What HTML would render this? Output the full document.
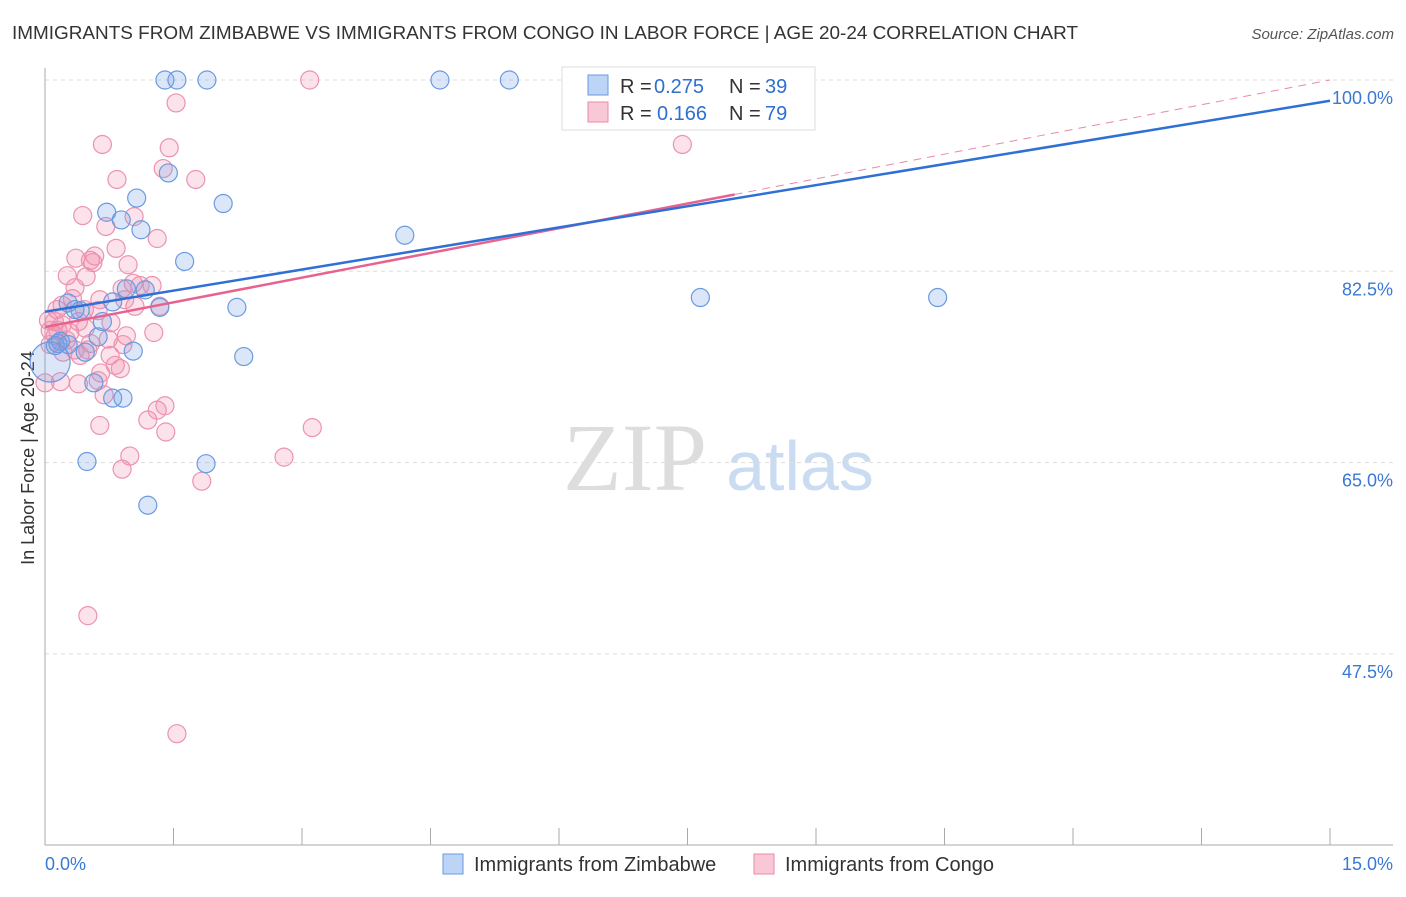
<!DOCTYPE html>
<html><head><meta charset="utf-8"><style>
body{margin:0;background:#fff;font-family:"Liberation Sans",sans-serif}
</style></head><body>
<svg id="c" width="1406" height="892" xmlns="http://www.w3.org/2000/svg">
<text x="12" y="39" font-size="18.5" fill="#333" textLength="1066" lengthAdjust="spacingAndGlyphs">IMMIGRANTS FROM ZIMBABWE VS IMMIGRANTS FROM CONGO IN LABOR FORCE | AGE 20-24 CORRELATION CHART</text>
<text x="1394" y="39" font-size="15" fill="#555" font-style="italic" text-anchor="end">Source: ZipAtlas.com</text>
<text x="34" y="458" font-size="18" fill="#333" text-anchor="middle" transform="rotate(-90 34 458)">In Labor Force | Age 20-24</text>
<g><text x="635" y="490" font-size="96" fill="#ddd" font-family="Liberation Serif" text-anchor="middle">ZIP</text><text x="800" y="490" font-size="70" fill="#c9dcf2" text-anchor="middle">atlas</text></g>
<g id="grid"></g><g id="pts"></g><g id="lines"></g>
<g>
<rect x="562" y="67" width="253" height="63" fill="#fff" stroke="#ddd"/>
<rect x="588" y="75" width="20" height="20" fill="#bcd4f5" stroke="#6a9ae0"/>
<rect x="588" y="102" width="20" height="20" fill="#f9c8d6" stroke="#e88aa8"/>
<text x="620" y="93" font-size="20" fill="#333">R =</text><text x="654" y="93" font-size="20" fill="#2f6fd0">0.275</text>
<text x="729" y="93" font-size="20" fill="#333">N =</text><text x="765" y="93" font-size="20" fill="#2f6fd0">39</text>
<text x="620" y="120" font-size="20" fill="#333">R =</text><text x="657" y="120" font-size="20" fill="#2f6fd0">0.166</text>
<text x="729" y="120" font-size="20" fill="#333">N =</text><text x="765" y="120" font-size="20" fill="#2f6fd0">79</text>
</g>
<g>
<rect x="443" y="854" width="20" height="20" fill="#bcd4f5" stroke="#6a9ae0"/>
<text x="474" y="871" font-size="20" fill="#333">Immigrants from Zimbabwe</text>
<rect x="754" y="854" width="20" height="20" fill="#f9c8d6" stroke="#e88aa8"/>
<text x="785" y="871" font-size="20" fill="#333">Immigrants from Congo</text>
</g>
<text x="45" y="870" font-size="18" fill="#3a78d4">0.0%</text>
<text x="1393" y="870" font-size="18" fill="#3a78d4" text-anchor="end">15.0%</text>
</svg>
<script>
const yTicks=[100,82.5,65,47.5];
const yTickLabels=["100.0%","82.5%","65.0%","47.5%"];
const zimX=[1.40,1.54,1.89,4.61,5.42,1.44,1.07,2.08,0.72,0.89,1.12,4.20,1.63,0.95,1.17,0.79,0.27,0.41,1.34,2.24,0.67,7.65,10.42,0.62,0.18,0.12,0.47,1.03,2.32,0.57,0.79,0.91,0.49,1.88,1.20,0.06,0.27,0.35,0.15];
const zimY=[100,100,100,100,100,91.5,89.2,88.7,87.9,87.2,86.3,85.8,83.4,80.9,80.8,79.7,79.6,78.9,79.2,79.2,77.9,80.1,80.1,76.5,76.1,75.7,75.1,75.2,74.7,72.3,70.9,70.9,65.1,64.9,61.1,74.2,75.8,79.0,75.9];
const conX=[3.09,1.53,0.67,1.45,7.44,1.38,0.84,1.76,0.44,1.04,0.71,1.31,0.83,0.36,0.53,0.58,0.56,0.97,0.26,0.48,0.35,1.03,1.25,0.90,0.14,0.32,0.46,0.62,1.05,1.34,0.11,0.20,0.39,0.77,0.12,0.29,0.95,1.27,0.53,0.74,0.21,0.35,0.50,0.76,0.91,0.82,0.88,0.65,0.00,0.18,0.39,0.62,0.69,1.31,1.40,1.20,1.41,0.64,0.99,0.90,2.79,3.12,1.83,0.50,1.54,0.04,0.06,0.15,0.25,0.41,0.06,0.64,0.20,1.11,0.93,0.47];
const conY=[100,97.9,94.1,93.8,94.1,91.9,90.9,90.9,87.6,87.5,86.6,85.5,84.6,83.7,83.5,83.9,83.3,83.1,82.1,82.0,81.0,81.4,81.2,80.9,79.0,80.0,79.0,78.9,79.3,79.3,77.9,77.6,77.9,77.8,76.6,76.9,76.6,76.9,75.9,76.3,75.1,75.3,75.3,74.8,75.8,73.9,73.6,73.2,72.3,72.4,72.2,72.5,71.2,69.8,70.2,68.9,67.8,68.4,65.6,64.4,65.5,68.2,63.3,51.0,40.2,78.0,77.1,77.1,76.2,74.8,75.8,79.9,79.4,81.2,79.9,77.3];
const zimTrend=[78.8,98.1];
const conTrend=[77.4,100];
const conSolidEnd=8.05;
const NS="http://www.w3.org/2000/svg";
const X=v=>45+v/15*1285, Y=v=>80+(100-v)/17.5*191.3;
function mk(t,a,p){const e=document.createElementNS(NS,t);for(const k in a)e.setAttribute(k,a[k]);p.appendChild(e);return e;}
const g=document.getElementById('grid');
yTicks.forEach((t,i)=>{
 const l=mk('line',{x1:45,x2:1393,y1:Y(t),y2:Y(t),stroke:'#ddd','stroke-dasharray':'4,4'},g);
 
 
 const tx=mk('text',{x:1393,y:Y(t)+24,'font-size':18,fill:'#3a78d4','text-anchor':'end'},g);
 tx.textContent=yTickLabels[i];
 
 
});
const ax=mk('line',{x1:45,x2:45,y1:68,y2:845,stroke:'#aaa'},g);


const bx=mk('line',{x1:45,x2:1393,y1:845,y2:845,stroke:'#aaa'},g);


for(let i=0;i<=10;i++){const t=mk('line',{x1:X(i*1.5),x2:X(i*1.5),y1:828,y2:845,stroke:'#aaa'},g);
 
 }
const p=document.getElementById('pts');
conX.forEach((x,i)=>{const c=mk('circle',{cx:X(x),cy:Y(conY[i]),r:9,fill:'rgba(242,140,170,0.25)',stroke:'#eb93b0','stroke-width':1.2},p);
 
 });
zimX.forEach((x,i)=>{const c=mk('circle',{cx:X(x),cy:Y(zimY[i]),r:i==35?20:9,fill:'rgba(110,160,230,0.25)',stroke:'#6a9ae0','stroke-width':1.2},p);
 
 });
const L=document.getElementById('lines');
const cy=v=>conTrend[0]+(conTrend[1]-conTrend[0])*v/15;
const d=mk('line',{x1:X(conSolidEnd),y1:Y(cy(conSolidEnd)),x2:X(15),y2:Y(conTrend[1]),stroke:'#e88aa8','stroke-width':1,'stroke-dasharray':'8,6'},L);


const s=mk('line',{x1:X(0),y1:Y(conTrend[0]),x2:X(conSolidEnd),y2:Y(cy(conSolidEnd)),stroke:'#e8628f','stroke-width':2.5},L);


const b=mk('line',{x1:X(0),y1:Y(zimTrend[0]),x2:X(15),y2:Y(zimTrend[1]),stroke:'#2f6fd6','stroke-width':2.5},L);


</script>
</body></html>
